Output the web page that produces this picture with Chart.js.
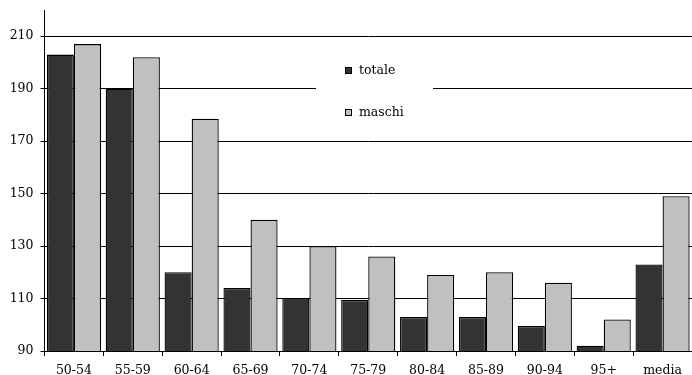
<!DOCTYPE html>
<html>
<head>
<meta charset="utf-8">
<script src="https://cdn.jsdelivr.net/npm/chart.js@4/dist/chart.umd.min.js"></script>
<style>
    body { margin: 0; background: #fff; }
    canvas { display: block; }
</style>
</head>
<body>
<canvas id="myChart" width="692" height="375"></canvas>
<script>
const categories = ['50-54', '55-59', '60-64', '65-69', '70-74', '75-79', '80-84', '85-89', '90-94', '95+', 'media'];
const totale = [203, 190, 120, 114, 110, 109.5, 103, 103, 99.5, 92, 123];
const maschi = [207, 202, 178.5, 140, 130, 126, 119, 120, 116, 102, 149];
const yTicks = [90, 110, 130, 150, 170, 190, 210];

const fontFamily = '"DejaVu Serif", serif';

// legend box sitting inside the plot, on top of the grid lines
const innerLegend = {
    id: 'innerLegend',
    afterDraw(chart) {
        const ctx = chart.ctx;
        ctx.save();
        ctx.fillStyle = '#fff';
        ctx.fillRect(316, 46, 117, 82);
        ctx.font = '12.5px ' + fontFamily;
        ctx.textBaseline = 'middle';
        chart.data.datasets.forEach((ds, i) => {
            const y = 71 + i * 42;
            ctx.fillStyle = ds.backgroundColor;
            ctx.fillRect(345, y - 4, 7, 7);
            ctx.strokeStyle = '#000';
            ctx.lineWidth = 1;
            ctx.strokeRect(345.5, y - 3.5, 6, 6);
            ctx.fillStyle = '#000';
            ctx.fillText(ds.label, 359, y);
        });
        ctx.restore();
    }
};

new Chart(document.getElementById('myChart'), {
    type: 'bar',
    data: {
        labels: categories,
        datasets: [{
            label: 'totale',
            data: totale,
            backgroundColor: '#333333',
            borderColor: '#000',
            borderWidth: 1.3,
            borderSkipped: false
        }, {
            label: 'maschi',
            data: maschi,
            backgroundColor: '#c0c0c0',
            borderColor: '#000',
            borderWidth: 1.3,
            borderSkipped: false
        }]
    },
    options: {
        responsive: false,
        animation: false,
        categoryPercentage: 0.92,
        barPercentage: 1,
        layout: { padding: { left: 6, top: 10, right: 0, bottom: 0 } },
        plugins: {
            legend: { display: false },
            tooltip: { enabled: false }
        },
        scales: {
            x: {
                offset: true,
                afterFit: scale => {
                    scale.height = 24;
                    scale.paddingLeft = 0;
                    scale.paddingRight = 0;
                },
                grid: {
                    offset: true,
                    drawOnChartArea: false,
                    color: '#000',
                    tickLength: 5
                },
                border: { color: '#000', width: 1 },
                ticks: {
                    color: '#000',
                    padding: 8,
                    font: { family: fontFamily, size: 12.5, lineHeight: 1 }
                }
            },
            y: {
                min: 90,
                max: 220,
                afterBuildTicks: scale => {
                    scale.ticks = yTicks.map(v => ({ value: v }));
                },
                afterFit: scale => {
                    scale.width = 38.5;
                    scale.paddingTop = 0;
                    scale.paddingBottom = 0;
                },
                grid: {
                    color: '#000',
                    tickLength: 4
                },
                border: { color: '#000', width: 1 },
                ticks: {
                    color: '#000',
                    padding: 7,
                    font: { family: fontFamily, size: 12.5 }
                }
            }
        }
    },
    plugins: [innerLegend]
});
</script>
</body>
</html>
